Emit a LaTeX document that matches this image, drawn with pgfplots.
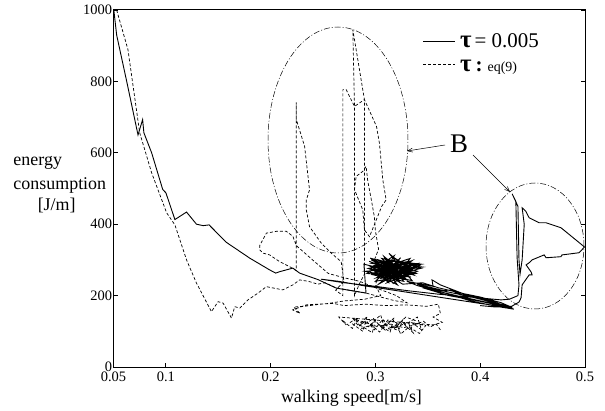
\documentclass[border=0pt]{standalone}
\usepackage{fontspec}
\setmainfont{Liberation Serif}
\usepackage{pgfplots}
\pgfplotsset{compat=1.18}
\usetikzlibrary{arrows.meta}
\newcommand{\tkfont}{\fontsize{14.5}{14.5}\selectfont}

\begin{document}
\begin{tikzpicture}
\begin{axis}[
  at={(0,0)}, anchor=south west,
  scale only axis, width=471.5bp, height=357bp,
  xmin=0.05, xmax=0.5, ymin=0, ymax=1000,
  xtick={0.05,0.1,0.2,0.3,0.4,0.5},
  ytick={0,200,400,600,800,1000},
  xticklabel={\tkfont\pgfmathprintnumber[fixed,precision=2,assume math mode=true]{\tick}},
  yticklabel={\tkfont\pgfmathprintnumber[fixed,precision=0,1000 sep={},assume math mode=true]{\tick}},
  xtick pos=left, ytick pos=both,
  tick align=inside,
  major tick length=4bp,
  axis line style={line width=1bp},
  tick style={line width=0.8bp,black},
  yticklabel style={xshift=2bp},
  xticklabel style={yshift=-1bp},
]
% tau = 0.005
\addplot[black, line width=0.9bp, mark=none] coordinates {
(0.0502,1000)(0.0505,995)(0.053,930)(0.0626,800)(0.0734,650)(0.0778,693)(0.079,656)
(0.0864,600)(0.097,497)(0.1,488)(0.1086,413)(0.1197,434)(0.1292,400)(0.1355,396)
(0.1412,398)(0.1578,349)(0.18,305)(0.199,272)(0.2048,263)(0.2086,267)(0.2212,277)
(0.2276,263)(0.245,245)(0.2626,221)(0.291,207)
(0.289,288)(0.326,262)(0.295,305)(0.338,270)(0.301,296)(0.312,238)(0.297,274)(0.334,252)
(0.292,262)(0.318,312)(0.305,248)(0.343,276)(0.299,284)(0.321,242)(0.308,310)(0.330,258)
(0.294,296)(0.316,266)(0.303,232)(0.336,286)(0.311,300)(0.327,240)(0.298,258)(0.345,280)
(0.306,292)(0.319,250)(0.293,276)(0.332,296)(0.310,262)(0.324,306)(0.300,240)(0.339,262)
(0.314,282)(0.296,300)(0.329,248)(0.307,270)(0.341,290)(0.317,234)(0.302,286)(0.322,276)
(0.290,268)(0.335,242)(0.313,318)(0.326,286)(0.304,262)(0.337,266)(0.309,244)(0.320,296)
(0.297,290)(0.331,272)(0.315,252)(0.342,284)(0.306,304)(0.323,258)(0.300,272)(0.333,304)
(0.318,246)(0.295,282)(0.328,278)(0.311,236)(0.340,268)(0.303,300)(0.325,252)(0.316,290)
(0.336,258)(0.308,280)(0.321,230)(0.299,264)(0.344,288)(0.312,298)(0.330,244)(0.305,258)
(0.319,304)(0.334,276)(0.314,264)(0.327,294)(0.301,250)(0.339,280)(0.317,272)(0.323,238)
(0.309,292)(0.332,264)(0.296,270)(0.320,284)(0.313,248)(0.335,298)(0.307,266)(0.326,232)
(0.345,236)(0.36,222)(0.38,208)(0.40,196)(0.42,180)(0.428,170)(0.405,182)(0.38,198)
(0.36,212)(0.34,228)(0.33,240)(0.355,226)(0.354,244)(0.362,230)(0.385,204)(0.41,186)
(0.432,162)(0.415,170)(0.39,186)(0.37,204)(0.35,222)(0.34,232)(0.365,214)(0.373,216)
(0.378,206)(0.40,190)(0.418,176)(0.426,168)(0.40,184)(0.37,200)(0.345,222)(0.36,216)
(0.392,196)(0.422,174)(0.43,166)
(0.40,178)(0.36,196)(0.32,214)(0.288,228)(0.265,240)(0.248,246)(0.27,236)(0.30,226)
(0.33,214)(0.36,204)(0.39,196)(0.42,188)(0.428,190)
(0.436,200)(0.437,230)(0.4352,306)(0.434,464)(0.4305,485)(0.436,450)(0.437,300)
(0.438,260)(0.44,300)(0.442,400)(0.44,446)(0.4435,436)(0.4467,418)(0.4562,404)
(0.4629,404)(0.4771,390)(0.4971,342)(0.4995,336)(0.4943,320)(0.478,314)(0.4771,309)
(0.4629,306)(0.461,314)(0.4495,300)(0.4467,292)(0.4438,286)(0.4486,266)(0.4495,258)
(0.4467,258)(0.44,230)(0.439,194)(0.4371,182)(0.43,170)(0.415,168)(0.40,172)
};
% tau : eq(9)
\addplot[black, line width=0.7bp, dash pattern=on 3bp off 2bp, mark=none] coordinates {
(0.053,1000)(0.0638,889)(0.075,656)(0.0864,544)(0.1007,432)(0.1086,398)(0.1197,300)
(0.1292,235)(0.1435,155)(0.1498,183)(0.1546,179)(0.1626,137)(0.1657,169)(0.1705,165)
(0.1784,188)(0.1879,207)(0.1959,225)(0.2117,216)(0.2212,230)(0.2276,244)
(0.236,240)(0.245,232)(0.252,236)(0.262,222)(0.275,215)(0.29,208)(0.305,196)(0.318,186)
(0.33,180)(0.32,200)(0.30,222)(0.285,240)(0.27,250)(0.255,262)(0.24,300)(0.2245,340)
(0.2212,366)(0.215,380)(0.2054,380)(0.1959,375)(0.1895,340)(0.1895,328)(0.1927,319)
(0.199,314)(0.2086,295)(0.2181,281)(0.2245,270)
(0.2245,741)(0.2245,693)(0.2324,618)(0.2371,496)(0.234,468)(0.234,440)(0.2371,393)
(0.2483,347)(0.2578,319)(0.2673,295)(0.27,240)(0.262,215)(0.2689,200)
(0.2689,777)(0.2721,777)(0.2752,758)(0.2800,730)(0.2895,749)(0.2784,945)(0.2800,730)
(0.2800,200)(0.285,235)(0.2895,260)(0.2895,749)(0.301,674)(0.3038,627)(0.307,525)
(0.3102,468)(0.306,450)(0.2943,365)(0.2895,384)(0.2879,440)(0.28,497)(0.2816,534)
(0.2879,548)(0.2911,562)(0.2927,520)(0.296,470)(0.299,420)(0.30,380)(0.303,330)
(0.299,300)(0.303,260)(0.30,230)(0.305,200)
(0.29,190)(0.27,185)(0.255,178)(0.245,175)(0.232,170)(0.222,168)(0.228,150)(0.221,160)
(0.234,174)(0.2438,176)(0.26,178)(0.27,172)(0.29,176)(0.31,172)(0.33,174)(0.3486,170)
(0.36,176)(0.362,150)(0.355,140)(0.3638,125)(0.355,118)
(0.265,140)(0.272,118)(0.268,132)(0.278,108)(0.283,138)(0.276,125)(0.288,100)(0.292,142)
(0.285,118)(0.297,96)(0.300,130)(0.293,112)(0.305,146)(0.309,104)(0.302,122)(0.314,98)
(0.318,138)(0.310,116)(0.322,102)(0.326,132)(0.318,108)(0.331,126)(0.336,96)(0.328,118)
(0.340,140)(0.344,104)(0.335,124)(0.348,116)(0.342,94)(0.332,112)(0.324,92)(0.320,124)
(0.312,132)(0.306,110)(0.298,136)(0.290,120)(0.282,128)(0.287,108)(0.296,118)(0.304,98)
(0.311,126)(0.316,112)(0.325,128)(0.333,104)(0.338,130)(0.329,140)(0.321,116)(0.313,106)
(0.307,134)(0.299,104)(0.291,130)(0.284,114)(0.279,134)(0.289,126)(0.301,114)(0.315,120)
(0.327,110)(0.337,118)(0.346,128)(0.352,112)(0.358,120)(0.362,104)
};
\end{axis}
% ellipses
\draw[line width=0.5bp, dash pattern=on 6bp off 2bp on 1bp off 2bp] (224.5bp,227bp) ellipse [x radius=70bp, y radius=113bp];
\draw[line width=0.5bp, dash pattern=on 6bp off 2bp on 1bp off 2bp] (421.5bp,121bp) ellipse [x radius=49bp, y radius=63bp];
% B annotation
\node[anchor=base, inner sep=0pt, font=\fontsize{27}{27}\selectfont] at (345.5bp,214.3bp) {B};
\draw[line width=0.5bp, -{Straight Barb[length=5bp,width=4bp]}] (331.5bp,222bp) -- (293.5bp,216bp);
\draw[line width=0.5bp, -{Straight Barb[length=5bp,width=4bp]}] (359.5bp,212bp) -- (396.5bp,175bp);
% legend
\draw[line width=0.9bp] (309.5bp,326bp) -- (341.5bp,326bp);
\draw[line width=0.7bp, dash pattern=on 3bp off 2bp] (309.5bp,302.7bp) -- (341.5bp,302.7bp);
\node[anchor=base west, inner sep=0pt] at (346.5bp,319.3bp) {{\fontsize{25}{25}\selectfont\bfseries τ}\hspace{3bp}{\fontsize{21}{21}\selectfont= 0.005}};
\node[anchor=base west, inner sep=0pt] at (346.5bp,295.3bp) {{\fontsize{25}{25}\selectfont\bfseries τ}\hspace{4bp}{\fontsize{21}{21}\selectfont\bfseries :}\hspace{5bp}{\fontsize{14}{14}\selectfont eq(9)}};
% axis labels
\node[anchor=base west, inner sep=0pt, font=\fontsize{18}{18}\selectfont] at (-100.2bp,201bp) {energy};
\node[anchor=base west, inner sep=0pt, font=\fontsize{18}{18}\selectfont] at (-100.2bp,177bp) {consumption};
\node[anchor=base, inner sep=0pt, font=\fontsize{18}{18}\selectfont] at (-56.8bp,156bp) {[J/m]};
\node[anchor=base, inner sep=0pt, font=\fontsize{18}{18}\selectfont] at (238bp,-35bp) {walking speed[m/s]};
\pgfresetboundingbox
\useasboundingbox (-113.5bp,-44bp) rectangle (491.5bp,367bp);
\end{tikzpicture}
\end{document}
